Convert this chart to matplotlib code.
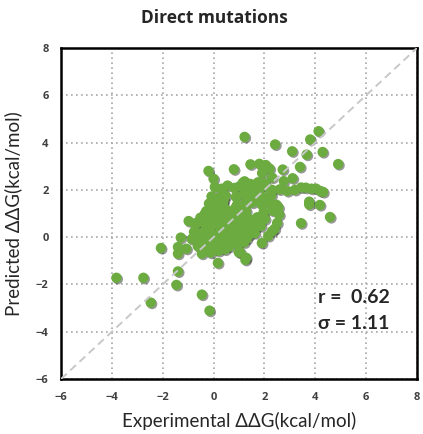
import numpy as np
import matplotlib
matplotlib.use("Agg")
import matplotlib.pyplot as plt
import matplotlib.patheffects as pe

# outliers
exp_out = [1.22, 2.42, 3.09, 3.66, 3.80, 4.13, 4.29, 4.90, 3.40, 2.72, 3.11, 2.76, 2.30, 1.91,
           1.80, 2.05, 2.20, 1.45, 0.80, -0.20, 0.00, 1.22,
           2.30, 2.60, 2.90, 3.20, 3.45, 3.63, 3.85, 4.03, 4.20, 4.31,
           3.76, 3.76, 4.18, 4.58, 3.44, 2.30, 1.05, 1.28, 0.99, 1.25,
           -3.82, -2.76, -2.47, -1.46, -1.40, -0.46, -0.16, 0.17, -2.07, -1.29,
           -1.40, -1.07, -1.40, -0.98, -0.68, -0.41, -0.29]
pred_out = [4.24, 3.92, 3.63, 3.49, 4.13, 4.48, 3.60, 3.09, 2.97, 2.86, 2.49, 2.37, 2.52, 2.71,
            3.10, 3.05, 2.90, 3.08, 2.87, 2.80, 2.47, 2.36,
            2.00, 2.02, 1.95, 2.00, 2.10, 2.09, 2.05, 2.05, 1.95, 1.91,
            1.50, 1.38, 1.36, 0.85, 0.59, 0.25, -0.64, -0.87, -0.64, -0.96,
            -1.72, -1.72, -2.77, -2.02, -1.45, -2.43, -3.11, -1.09, -0.46, -0.02,
            -0.42, -0.49, -0.70, 0.68, 0.60, 0.63, 1.10]

# dense cluster around the diagonal
exp_core = [0.05, 0.32, 0.55, 0.82, 1.02, 1.30, 1.57, 1.80, 2.07,
            -0.08, 0.22, 0.47, 0.88, 1.17, 1.42, 1.72, 1.98, 2.27,
            -0.18, 0.12, 0.37, 0.92, 1.22, 1.52, 1.88, 2.21, 2.47,
            0.02, 0.27, 0.52, 0.72, 1.08, 1.28, 1.97, 2.32,
            -0.52, -0.22, 0.12, 0.41, 0.77, 1.01, 1.38, 1.72, 2.02,
            -0.72, -0.31, 0.02, 0.31, 0.62, 0.91, 1.21, 1.52, 1.86,
            -0.77, -0.46, -0.12, 0.22, 0.51, 0.81, 1.12, 1.36, 1.62,
            -0.86, -0.52, -0.21, 0.06, 0.41, 0.71, 1.02, 1.31,
            -0.62, -0.31, 0.01, 0.31, 0.61, 0.95,
            -0.46, -0.11, 0.20, 0.45,
            1.15, 1.45, 1.75, 2.00, 1.30, 1.60,
            2.55, 2.58, 2.50, 2.40, 2.15, 1.90,
            -0.35, -0.05, 0.15, 0.40, 0.65, 0.85, 1.10, 1.40, 1.65, 1.95,
            -0.60, -0.25, 0.10, 0.35, 0.60, 0.90, 1.20, 1.50]
pred_core = [2.12, 2.05, 2.18, 2.08, 2.15, 2.02, 2.10, 2.06, 2.14,
             1.72, 1.68, 1.75, 1.70, 1.78, 1.66, 1.74, 1.69, 1.77,
             1.42, 1.38, 1.45, 1.36, 1.40, 1.46, 1.39, 1.44, 1.37,
             1.12, 1.08, 1.15, 1.06, 1.02, 1.10, 1.07, 1.12,
             0.82, 0.78, 0.85, 0.76, 0.80, 0.86, 0.79, 0.84, 0.77,
             0.52, 0.48, 0.55, 0.46, 0.50, 0.56, 0.49, 0.54, 0.47,
             0.22, 0.18, 0.25, 0.16, 0.20, 0.26, 0.19, 0.24, 0.17,
             -0.08, -0.12, -0.05, -0.14, -0.10, -0.04, -0.11, -0.06,
             -0.38, -0.42, -0.36, -0.44, -0.40, -0.30,
             -0.70, -0.66, -0.58, -0.52,
             2.30, 2.25, 2.32, 2.28, 1.90, 1.92,
             1.25, 0.95, 0.60, 0.35, 0.05, -0.25,
             0.98, 1.25, 0.65, 1.58, 0.35, 1.22, 0.62, 0.10, 0.40, 0.92,
             0.05, 0.40, 0.02, -0.25, 0.05, 0.00, -0.22, 0.70]

exp_ddg = np.array(exp_out + exp_core)
pred_ddg = np.array(pred_out + pred_core)

ticks = [-6, -4, -2, 0, 2, 4, 6, 8]

fig = plt.figure(figsize=(4.23, 4.34), dpi=100)
ax = fig.add_axes([61 / 423, 1 - 379 / 434, 356 / 423, 331 / 434])

ax.scatter(exp_ddg, pred_ddg, s=56, color="#6BAB40", edgecolors="none", zorder=3,
           path_effects=[pe.SimplePatchShadow(offset=(1.0, -1.0), shadow_rgbFace="k", alpha=0.4),
                         pe.Normal()])
ax.plot([-6, 8], [-6, 8], ls=(0, (4, 2.5)), color="#c8c8c8", lw=1.4, zorder=4)

ax.set_xlim(-6, 8)
ax.set_ylim(-6, 8)
ax.set_xticks(ticks)
ax.set_yticks(ticks)
ax.grid(True, ls=(0, (1, 2)), color="#a8a8a8", lw=1.2, zorder=0)
ax.tick_params(length=0, pad=9, labelsize=8, labelcolor="#404040")
for lab in ax.get_xticklabels() + ax.get_yticklabels():
    lab.set_fontweight("bold")
    lab.set_family("Open Sans")
for sp in ax.spines.values():
    sp.set_linewidth(1.8)
    sp.set_color("black")

ax.set_xlabel("Experimental ΔΔG(kcal/mol)", fontsize=13.5, family="Lato", color="#262626", labelpad=7)
ax.set_ylabel("Predicted ΔΔG(kcal/mol)", fontsize=13.5, family="Lato", color="#262626", labelpad=10)

fig.text(214 / 423, 1 - 18 / 434, "Direct mutations", ha="center", va="center",
         fontsize=12.5, fontweight="bold", family="Open Sans", color="#262626")

ax.text(4.1, -2.56, "r =  0.62", fontsize=14, fontweight="bold", family="Lato", color="#262626",
        va="center", zorder=5)
ax.text(4.1, -3.66, "σ = 1.11", fontsize=14, fontweight="bold", family="Lato", color="#262626",
        va="center", zorder=5)

fig.savefig("out.png", dpi=100)
